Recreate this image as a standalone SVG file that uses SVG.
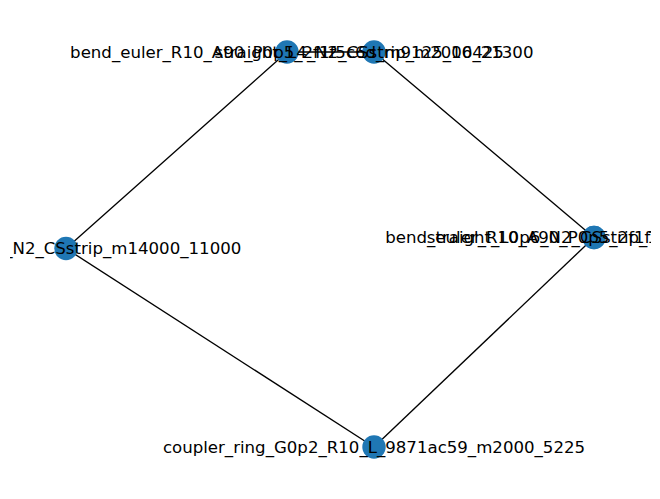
<svg xmlns="http://www.w3.org/2000/svg" width="660" height="499" viewBox="0 0 660 499">
<style>
.e{stroke:#000;stroke-width:1.35;fill:none}
.n{fill:#1f77b4}
.t{font-family:"DejaVu Sans",sans-serif;font-size:16.6px;fill:#000;text-anchor:middle}
</style>
<defs><clipPath id="cp"><rect x="10" y="0" width="641" height="499"/></clipPath></defs>
<rect width="660" height="499" fill="#fff"/>
<g id="edges">
<line class="e" x1="66" y1="248.5" x2="287" y2="52"/>
<line class="e" x1="287" y1="52" x2="374" y2="52"/>
<line class="e" x1="374" y1="52" x2="594" y2="237.5"/>
<line class="e" x1="594" y1="237.5" x2="374" y2="447"/>
<line class="e" x1="374" y1="447" x2="66" y2="248.5"/>
</g>
<g clip-path="url(#cp)">
<g id="coupler"><circle class="n" cx="374" cy="447" r="11.7"/></g>
<g id="sl"><circle class="n" cx="66" cy="248.5" r="11.7"/></g>
<g id="bl"><circle class="n" cx="287" cy="52" r="11.7"/></g>
<g id="st"><circle class="n" cx="374" cy="52" r="11.7"/></g>
<g id="br"><circle class="n" cx="594" cy="237.5" r="11.7"/></g>
<g id="sr"><circle class="n" cx="594" cy="237.5" r="11.7"/></g>
<g id="labels">
<text class="t" x="374" y="452.5">coupler_ring_G0p2_R10_L_9871ac59_m2000_5225</text>
<text class="t" x="66" y="254">straight_L0p6_N2_CSstrip_m14000_11000</text>
<text class="t" x="287" y="57.5">bend_euler_R10_A90_P0p5_2f1f5c6d_m9125_16425</text>
<text class="t" x="374" y="57.5">straight_L4_N2_CSstrip_m2000_21300</text>
<text class="t" x="594" y="243">bend_euler_R10_A90_P0p5_2f1f5c6d_5125_16425</text>
<text class="t" x="594" y="243">straight_L0p6_N2_CSstrip_10000_11000</text>
</g>
</g>
</svg>
